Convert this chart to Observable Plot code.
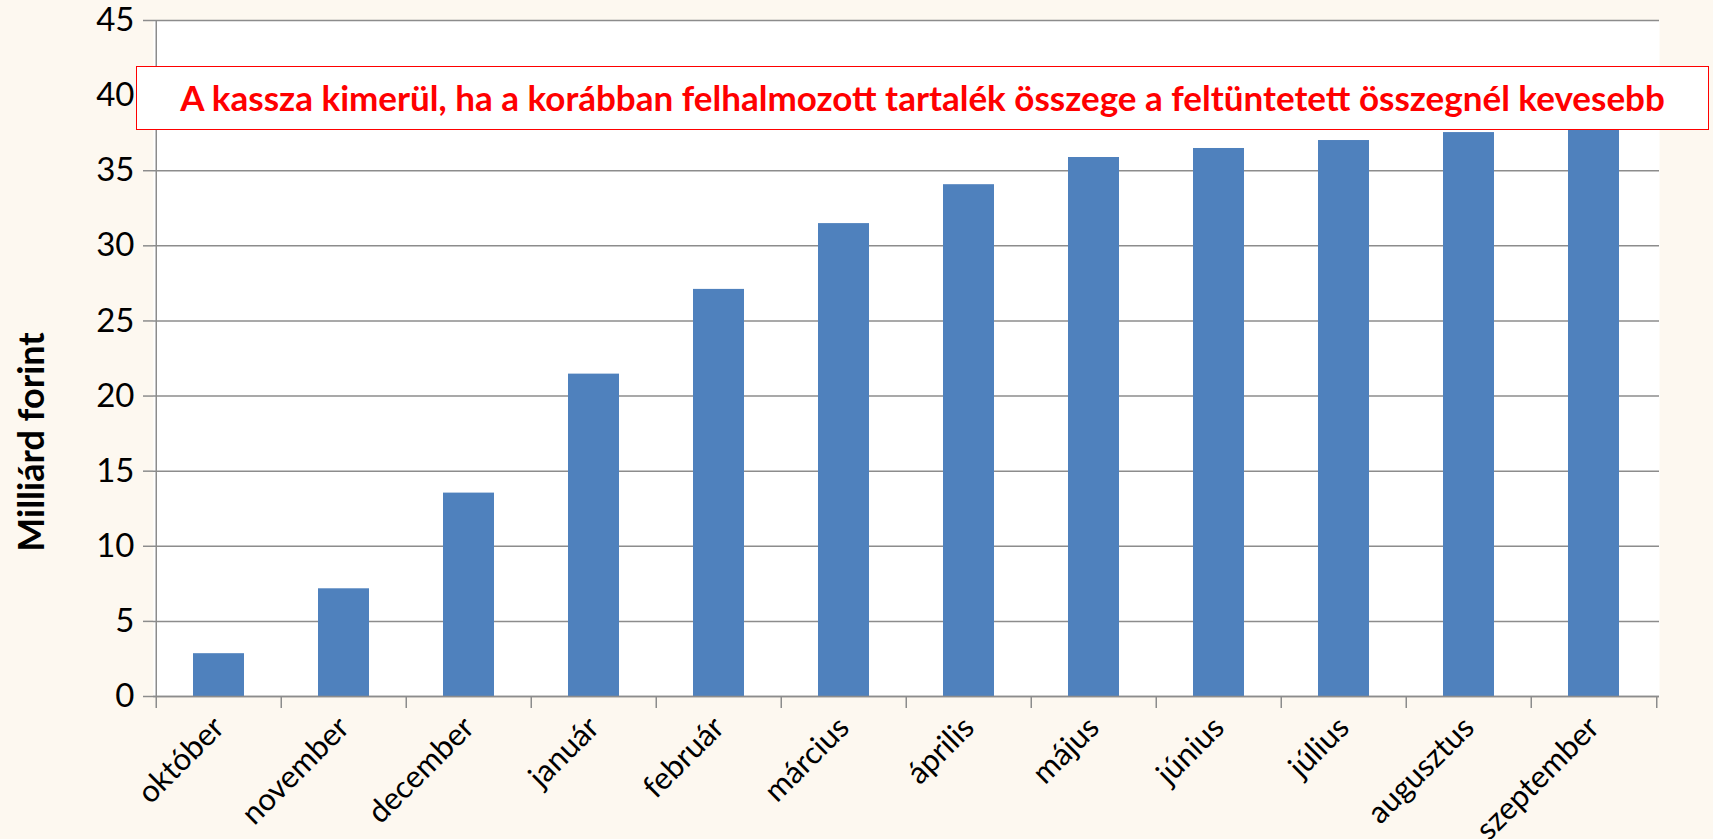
<!DOCTYPE html>
<html><head><meta charset="utf-8">
<script src="https://cdn.jsdelivr.net/npm/d3@7"></script>
<script src="https://cdn.jsdelivr.net/npm/@observablehq/plot@0.6"></script>
<style>
html,body{margin:0;padding:0;background:#FDF8F0;}
#wrap{position:relative;width:1713px;height:839px;overflow:hidden;background:#FDF8F0;}
#note{position:absolute;left:136px;top:66px;width:1573px;height:64px;box-sizing:border-box;border:1.5px solid #ff0000;background:#fff;color:#ff0000;font-family:Lato,sans-serif;font-weight:bold;font-size:35px;display:flex;align-items:center;justify-content:center;white-space:nowrap;padding-bottom:2px;}
#ytitle{position:absolute;left:30px;top:442px;transform:translate(-50%,-50%) rotate(-90deg);font-family:Lato,sans-serif;font-weight:bold;font-size:36px;color:#000;white-space:nowrap;}
</style></head><body>
<div id="wrap"></div>
<script>
const months = ["október","november","december","január","február","március","április","május","június","július","augusztus","szeptember"];
const values = [2.85, 7.17, 13.54, 21.46, 27.10, 31.48, 34.07, 35.88, 36.48, 37.01, 37.54, 38.0];
const yTicks = [0,5,10,15,20,25,30,35,40,45];
const yTitle = "Milliárd forint";
const noteText = "A kassza kimerül, ha a korábban felhalmozott tartalék összege a feltüntetett összegnél kevesebb";

const data = months.map((m, i) => ({month: m, value: values[i]}));
const W = 1713, H = 839, mL = 153, mR = 54, mT = 20, mB = 143;
const step = (W - mL - mR) / months.length;
const gray = "#8c8c8c";

const chart = Plot.plot({
  width: W, height: H,
  marginLeft: mL, marginRight: mR, marginTop: mT, marginBottom: mB,
  style: {background: "transparent", fontFamily: "Lato, sans-serif", fontSize: "32px", color: "#000", overflow: "visible"},
  x: {domain: months, paddingInner: 0.594, paddingOuter: 0.297},
  y: {domain: [0, 45], ticks: yTicks},
  marks: [
    Plot.frame({fill: "white", stroke: null}),
    Plot.gridY(yTicks, {stroke: gray, strokeOpacity: 1, strokeWidth: 1.5}),
    Plot.barY(data, {x: "month", y: "value", fill: "#4F81BD"}),
    Plot.ruleX([months[0]], {dx: -step / 2, y1: 0, y2: 45, stroke: gray, strokeWidth: 1.5}),
    Plot.ruleY([0], {stroke: gray, strokeWidth: 1.5}),
    Plot.axisY({ticks: yTicks, tickSize: 10, tickPadding: 9, stroke: gray, strokeWidth: 1.5, label: null, fontSize: 33}),
    Plot.axisX({tickSize: 12, text: null, dx: -step / 2, stroke: gray, strokeWidth: 1.5, label: null}),
    Plot.axisX([months[months.length - 1]], {tickSize: 12, text: null, dx: step / 2, stroke: gray, strokeWidth: 1.5, label: null}),
    Plot.axisX({tickSize: 0, tickPadding: 26, tickRotate: -45, label: null, fontSize: 31})
  ]
});
const wrap = document.getElementById("wrap");
wrap.appendChild(chart);
const title = document.createElement("div");
title.id = "ytitle";
title.textContent = yTitle;
wrap.appendChild(title);
const note = document.createElement("div");
note.id = "note";
note.textContent = noteText;
wrap.appendChild(note);
</script>
</body></html>
